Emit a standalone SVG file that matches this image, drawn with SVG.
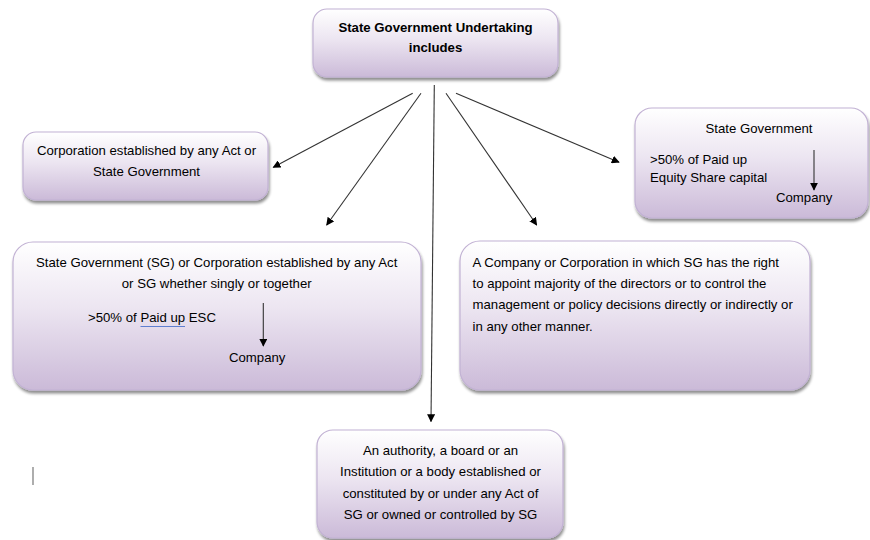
<svg xmlns="http://www.w3.org/2000/svg" width="870" height="540" viewBox="0 0 870 540">
<style>
.box{fill:url(#g);stroke:#c2b2d4;stroke-width:1.2;filter:url(#sh)}
.t{font-family:"Liberation Sans",Arial,sans-serif;font-size:13.2px;fill:#000}
.c{text-anchor:middle}
.b{font-weight:bold}
.ln{stroke:#333;stroke-width:1.1;fill:none;marker-end:url(#ah)}
</style>
<defs>
<linearGradient id="g" x1="0" y1="0" x2="0" y2="1">
<stop offset="0" stop-color="#ffffff"/>
<stop offset="0.45" stop-color="#ece5f1"/>
<stop offset="1" stop-color="#cbbad8"/>
</linearGradient>
<filter id="sh" x="-10%" y="-10%" width="120%" height="130%">
<feGaussianBlur in="SourceAlpha" stdDeviation="1.6"/>
<feOffset dx="1" dy="2.5" result="o"/>
<feComponentTransfer><feFuncA type="linear" slope="0.45"/></feComponentTransfer>
<feMerge><feMergeNode/><feMergeNode in="SourceGraphic"/></feMerge>
</filter>
<marker id="ah" viewBox="0 0 10 10" refX="9" refY="5" markerWidth="8" markerHeight="8" markerUnits="userSpaceOnUse" orient="auto">
<path d="M0,0 L10,5 L0,10 z" fill="#000"/>
</marker>
</defs>
<rect width="870" height="540" fill="#fff"/>

<g id="top">
<rect class="box" x="313" y="9" width="245" height="68" rx="14"/>
<text class="t c b" x="435.5" y="31.5">State Government Undertaking</text>
<text class="t c b" x="435.5" y="52">includes</text>
</g>

<g id="corp">
<rect class="box" x="23" y="132" width="245" height="68" rx="13"/>
<text class="t c" x="146.5" y="155">Corporation established by any Act or</text>
<text class="t c" x="146.5" y="175.5">State Government</text>
</g>

<g id="sg-corp">
<rect class="box" x="13" y="242" width="408" height="148" rx="20"/>
<text class="t c" x="216.7" y="266.5">State Government (SG) or Corporation established by any Act</text>
<text class="t c" x="216.7" y="288">or SG whether singly or together</text>
<text class="t" x="88" y="321.5">&gt;50% of Paid up ESC</text>
<line x1="140.5" y1="326.5" x2="185" y2="326.5" stroke="#5f7fd0" stroke-width="1"/>
<line x1="263.3" y1="303" x2="263.3" y2="346" class="ln"/>
<text class="t" x="229" y="361.5">Company</text>
</g>

<g id="state-gov">
<rect class="box" x="635" y="108" width="233" height="110" rx="17"/>
<text class="t c" x="759" y="133">State Government</text>
<text class="t" x="650" y="164">&gt;50% of Paid up</text>
<text class="t" x="650" y="182">Equity Share capital</text>
<line x1="814" y1="150" x2="814" y2="190" class="ln"/>
<text class="t" x="776" y="201.5">Company</text>
</g>

<g id="control">
<rect class="box" x="460" y="241" width="350" height="149" rx="20"/>
<text class="t" x="472.5" y="266.5">A Company or Corporation in which SG has the right</text>
<text class="t" x="472.5" y="288">to appoint majority of the directors or to control the</text>
<text class="t" x="472.5" y="309.3">management or policy decisions directly or indirectly or</text>
<text class="t" x="472.5" y="330.6">in any other manner.</text>
</g>

<g id="authority">
<rect class="box" x="317" y="430" width="246" height="108" rx="16"/>
<text class="t c" x="440.5" y="455">An authority, a board or an</text>
<text class="t c" x="440.5" y="476.3">Institution or a body established or</text>
<text class="t c" x="440.5" y="497.6">constituted by or under any Act of</text>
<text class="t c" x="440.5" y="519">SG or owned or controlled by SG</text>
</g>

<g id="connectors">
<line x1="412.7" y1="93.3" x2="273.3" y2="167.3" class="ln"/>
<line x1="421" y1="93.3" x2="326.7" y2="225" class="ln"/>
<line x1="434.3" y1="85" x2="431" y2="421.5" class="ln"/>
<line x1="446" y1="93.3" x2="536.7" y2="225" class="ln"/>
<line x1="456" y1="93.3" x2="619" y2="162.3" class="ln"/>
</g>

<line x1="33" y1="467" x2="33" y2="485" stroke="#777" stroke-width="1.2"/>
</svg>
